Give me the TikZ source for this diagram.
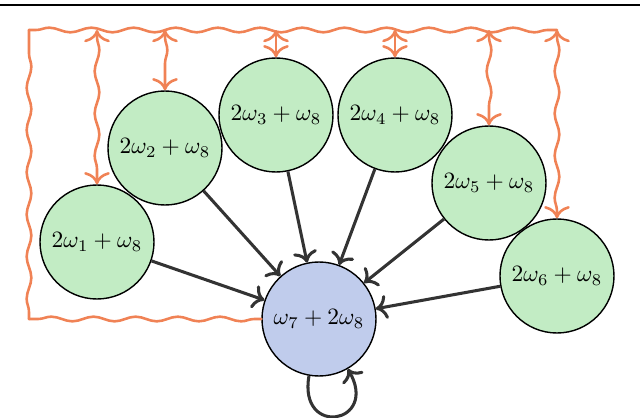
\documentclass[tikz,border=0pt]{standalone}
\usetikzlibrary{decorations.pathmorphing, arrows.meta}
\definecolor{nodegreen}{RGB}{194,236,196}
\definecolor{nodeblue}{RGB}{192,204,236}
\definecolor{wavyorange}{RGB}{240,130,85}
\definecolor{edgegray}{RGB}{51,51,51}

\begin{document}
\begin{tikzpicture}[
    state/.style={circle, draw, semithick, minimum size=1.71cm, inner sep=0pt},
    edge/.style={-{To[scale=1.1]}, edgegray, line width=1.3pt},
    wavy/.style={wavyorange, line width=1.1pt, line cap=round, decorate,
        decoration={snake, amplitude=1pt, segment length=18pt,
            pre length=3pt, post length=3pt}},
    bus/.style={wavy, {To[scale=1.3]}-{To[scale=1.3]}}
]
    \useasboundingbox (0,0) rectangle (9.6,6.255);

    % Rule of the page
    \draw [line width=0.8pt] (0,6.18) -- (9.6,6.18);

    % Nodes
    \node [state, fill=nodegreen] (n1) at (1.455,2.625) {$2\omega_1+\omega_8$};
    \node [state, fill=nodegreen] (n2) at (2.475,4.035) {$2\omega_2+\omega_8$};
    \node [state, fill=nodegreen] (n3) at (4.14,4.53) {$2\omega_3+\omega_8$};
    \node [state, fill=nodegreen] (n4) at (5.925,4.53) {$2\omega_4+\omega_8$};
    \node [state, fill=nodegreen] (n5) at (7.335,3.51) {$2\omega_5+\omega_8$};
    \node [state, fill=nodegreen] (n6) at (8.355,2.115) {$2\omega_6+\omega_8$};
    \node [state, fill=nodeblue] (n7) at (4.785,1.47) {$\omega_7+2\omega_8$};

    % Wavy bus
    \coordinate (tl) at (0.435,5.805);
    \coordinate (tr) at (n6 |- tl);
    \coordinate (bl) at (n7.west -| tl);
    \draw [wavy] (n7.west) -- (bl);
    \draw [wavy] (bl) -- (tl);
    \draw [wavy] (tl) -- (tr);
    \foreach \i in {1,...,6}
        \draw [bus] (n\i |- tl) -- (n\i.north);

    % Edges into the sink
    \foreach \i in {1,...,6}
        \draw [edge] (n\i) -- (n7);
    \draw [edge] (n7) to [out=-100, in=-60, distance=0.95cm] (n7);
\end{tikzpicture}
\end{document}
